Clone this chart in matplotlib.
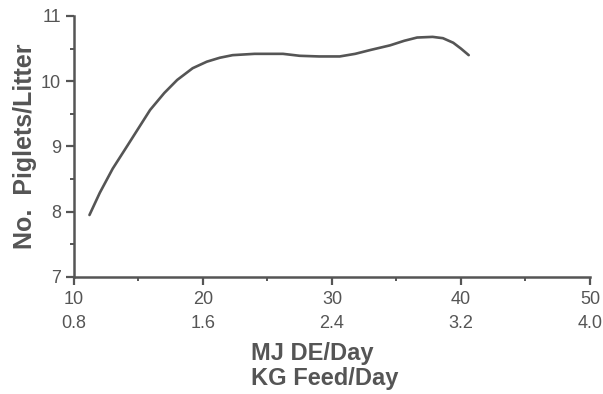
#%% Libraries
import numpy as np
import matplotlib
matplotlib.use('Agg')
import matplotlib.pyplot as plt
from matplotlib.ticker import MultipleLocator

#%% Data
energy_mj = [11.2, 12.0, 13.0, 14.1, 15.0, 15.9, 17.0, 18.0, 19.2, 20.3,
             21.3, 22.3, 24.0, 26.2, 27.5, 29.0, 30.6, 31.8, 33.0, 34.5,
             35.6, 36.6, 37.8, 38.6, 39.4, 40.0, 40.6]
piglets = [7.95, 8.29, 8.66, 9.00, 9.28, 9.56, 9.82, 10.02, 10.20, 10.30,
           10.36, 10.40, 10.42, 10.42, 10.39, 10.38, 10.38, 10.42, 10.48, 10.55,
           10.62, 10.67, 10.68, 10.66, 10.59, 10.50, 10.40]
mj_ticks = [10, 20, 30, 40, 50]
mj_labels = ['10', '20', '30', '40', '50']
kg_labels = ['0.8', '1.6', '2.4', '3.2', '4.0']
y_ticks = [7, 8, 9, 10, 11]

#%% Figure
ink = '#555555'
plt.rcParams['font.family'] = ['Liberation Sans', 'DejaVu Sans']
fig = plt.figure(figsize=(6.03, 3.94), dpi=100)
ax = fig.add_axes([0.1227, 0.297, 0.8557, 0.6624])

ax.plot(energy_mj, piglets, color=ink, lw=1.9, solid_capstyle='round')

ax.set_xlim(10, 50)
ax.set_ylim(7, 11)
ax.spines['top'].set_visible(False)
ax.spines['right'].set_visible(False)
for s in ['left', 'bottom']:
    ax.spines[s].set_color(ink)
    ax.spines[s].set_linewidth(1.8)

ax.set_xticks(mj_ticks)
ax.set_xticklabels([a + '\n' + b for a, b in zip(mj_labels, kg_labels)],
                   linespacing=1.55)
ax.set_yticks(y_ticks)
ax.xaxis.set_minor_locator(MultipleLocator(5))
ax.yaxis.set_minor_locator(MultipleLocator(0.5))
ax.tick_params(which='major', length=6, width=1.6, color=ink, labelcolor=ink,
               labelsize=13)
ax.tick_params(which='minor', length=3, width=1.4, color=ink)
ax.tick_params(axis='x', pad=4)

ax.set_ylabel('No.  Piglets/Litter', fontsize=18, fontweight='bold',
              color=ink, labelpad=3)
fig.text(251 / 603, 1 - 342 / 394, 'MJ DE/Day\nKG Feed/Day', ha='left',
         va='top', fontsize=17, fontweight='bold', color=ink, linespacing=1.1)

fig.savefig('out.png', dpi=100, facecolor='w')
